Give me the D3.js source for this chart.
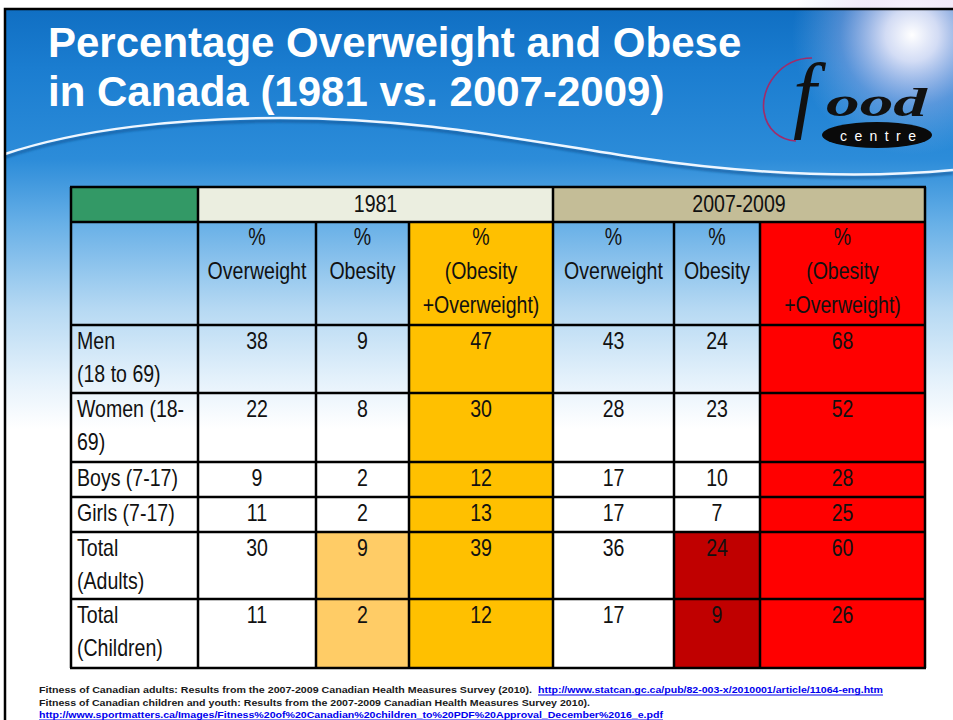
<!DOCTYPE html>
<html>
<head>
<meta charset="utf-8">
<script src="https://cdn.jsdelivr.net/npm/d3@7"></script>
<style>
  body { margin: 0; background: #fff; }
  svg { display: block; font-family: "Liberation Sans", Arial, sans-serif; }
</style>
</head>
<body>
<div id="slide"></div>
<script>
// ---- data ----
var titleLines = ["Percentage Overweight and Obese", "in Canada (1981 vs. 2007-2009)"];
var periods = ["1981", "2007-2009"];
var columnHeads = [["%", "Overweight"], ["%", "Obesity"], ["%", "(Obesity", "+Overweight)"]];
var rowLabels = [["Men", "(18 to 69)"], ["Women (18-", "69)"], ["Boys (7-17)"], ["Girls (7-17)"], ["Total", "(Adults)"], ["Total", "(Children)"]];
var overweight1981 = [38, 22, 9, 11, 30, 11];
var obesity1981 = [9, 8, 2, 2, 9, 2];
var combined1981 = [47, 30, 12, 13, 39, 12];
var overweight2009 = [43, 28, 17, 17, 36, 17];
var obesity2009 = [24, 23, 10, 7, 24, 9];
var combined2009 = [68, 52, 28, 25, 60, 26];
var sources = [
  ["Fitness of Canadian adults: Results from the 2007-2009 Canadian Health Measures Survey (2010).", "http://www.statcan.gc.ca/pub/82-003-x/2010001/article/11064-eng.htm"],
  ["Fitness of Canadian children and youth: Results from the 2007-2009 Canadian Health Measures Survey 2010).", ""],
  ["", "http://www.sportmatters.ca/Images/Fitness%20of%20Canadian%20children_to%20PDF%20Approval_December%2016_e.pdf"]
];

var svgWidth = 953;
var svgHeight = 720;

var svg = d3.select("#slide").append("svg")
  .attr("width", svgWidth)
  .attr("height", svgHeight);

var defs = svg.append("defs");

// sky background
var sky = defs.append("linearGradient").attr("id", "sky")
  .attr("gradientUnits", "userSpaceOnUse")
  .attr("x1", 0).attr("y1", 9).attr("x2", 0).attr("y2", 720);
[[0, "#106fc3"], [60, "#1b7dd0"], [150, "#2c8cd9"], [215, "#68b0e7"], [300, "#b6d9f3"], [370, "#e4f1fb"], [420, "#ffffff"], [711, "#ffffff"]]
  .forEach(function(s) {
    sky.append("stop").attr("offset", s[0] / 711).attr("stop-color", s[1]);
  });

var sun = defs.append("radialGradient").attr("id", "sun");
sun.append("stop").attr("offset", 0).attr("stop-color", "#ffffff").attr("stop-opacity", 1);
sun.append("stop").attr("offset", 0.22).attr("stop-color", "#f4eefc").attr("stop-opacity", 0.85);
sun.append("stop").attr("offset", 0.6).attr("stop-color", "#dcc8f0").attr("stop-opacity", 0.3);
sun.append("stop").attr("offset", 1).attr("stop-color", "#b0c8f0").attr("stop-opacity", 0);

var blur = defs.append("filter").attr("id", "soft");
blur.append("feGaussianBlur").attr("stdDeviation", 1.2);

svg.append("rect")
  .attr("x", 5).attr("y", 9)
  .attr("width", svgWidth).attr("height", svgHeight)
  .attr("fill", "url(#sky)");

svg.append("circle")
  .attr("cx", 912).attr("cy", 35).attr("r", 120)
  .attr("fill", "url(#sun)");

// wave across the header
var wavePath = "M 5 154 C 80 129, 180 118, 280 118 C 420 118, 520 140, 640 158 C 760 176, 870 178, 953 170";
svg.append("path")
  .attr("d", wavePath)
  .attr("transform", "translate(0,3)")
  .attr("fill", "none")
  .attr("stroke", "#0d4f8e")
  .attr("stroke-width", 3)
  .attr("opacity", 0.6)
  .attr("filter", "url(#soft)");
svg.append("path")
  .attr("d", wavePath)
  .attr("fill", "none")
  .attr("stroke", "#eef6ff")
  .attr("stroke-width", 2.5);

// slide frame
svg.append("path")
  .attr("d", "M 5 " + svgHeight + " V 9 H " + svgWidth)
  .attr("fill", "none")
  .attr("stroke", "#000")
  .attr("stroke-width", 2.5);

// title
svg.selectAll("text.title")
  .data(titleLines)
  .enter()
  .append("text")
  .attr("class", "title")
  .attr("x", 48)
  .attr("y", function(d, i) { return 57 + i * 49; })
  .attr("fill", "#fff")
  .attr("font-size", 42)
  .attr("font-weight", "bold")
  .text(function(d) { return d; });

// food centre logo
var logo = svg.append("g");
logo.append("path")
  .attr("d", "M 812 58 C 780 58, 760 88, 764 112 C 767 130, 780 140, 796 141")
  .attr("fill", "none")
  .attr("stroke", "#a02c6a")
  .attr("stroke-width", 1.6);
logo.append("text")
  .attr("x", 793).attr("y", 122)
  .attr("font-family", "Liberation Serif, serif")
  .attr("font-style", "italic")
  .attr("font-size", 84)
  .attr("fill", "#111")
  .text("f");
logo.append("text")
  .attr("x", 826).attr("y", 116)
  .attr("font-family", "Liberation Serif, serif")
  .attr("font-style", "italic")
  .attr("font-weight", "bold")
  .attr("font-size", 40)
  .attr("fill", "#111")
  .attr("textLength", 101)
  .attr("lengthAdjust", "spacingAndGlyphs")
  .text("ood");
logo.append("ellipse")
  .attr("cx", 877).attr("cy", 135).attr("rx", 55).attr("ry", 13)
  .attr("fill", "#0a0a0a");
logo.append("text")
  .attr("x", 840).attr("y", 141)
  .attr("font-size", 14)
  .attr("fill", "#fff")
  .attr("textLength", 76)
  .attr("lengthAdjust", "spacing")
  .text("centre");

// ---- table ----
var colWidths = [127, 118, 93, 144, 121, 86, 165];
var rowHeights = [35, 103, 68, 69, 35, 35, 67, 69];
var tableLeft = 71;
var tableTop = 187;

var colEdges = [tableLeft].concat(Array.from(d3.cumsum(colWidths), function(v) { return v + tableLeft; }));
var rowEdges = [tableTop].concat(Array.from(d3.cumsum(rowHeights), function(v) { return v + tableTop; }));

var x = d3.scaleOrdinal().domain(d3.range(colWidths.length)).range(colEdges.slice(0, -1));
var w = d3.scaleOrdinal().domain(d3.range(colWidths.length)).range(colWidths);
var y = d3.scaleOrdinal().domain(d3.range(rowHeights.length)).range(rowEdges.slice(0, -1));
var h = d3.scaleOrdinal().domain(d3.range(rowHeights.length)).range(rowHeights);

var valueColumns = [overweight1981, obesity1981, combined1981, overweight2009, obesity2009, combined2009];

var ORANGE = "#ffc000", LIGHT_ORANGE = "#ffcc66", RED = "#ff0000", DARK_RED = "#c00000";

function cellFill(col, row) {
  if (col === 3) return ORANGE;
  if (col === 6) return RED;
  if (row >= 6 && col === 2) return LIGHT_ORANGE;
  if (row >= 6 && col === 5) return DARK_RED;
  return "none";
}

var table = svg.append("g");

// header row 1
var headCells = [
  { x0: 0, x1: 1, fill: "#339966", text: "" },
  { x0: 1, x1: 4, fill: "#ebeee0", text: periods[0] },
  { x0: 4, x1: 7, fill: "#c4bd97", text: periods[1] }
];
table.selectAll("rect.head")
  .data(headCells)
  .enter()
  .append("rect")
  .attr("class", "head")
  .attr("x", function(d) { return colEdges[d.x0]; })
  .attr("y", y(0))
  .attr("width", function(d) { return colEdges[d.x1] - colEdges[d.x0]; })
  .attr("height", h(0))
  .attr("fill", function(d) { return d.fill; });

function condensed(sel, cx, cy) {
  return sel.attr("transform", "translate(" + cx + "," + cy + ") scale(0.85,1)");
}

headCells.forEach(function(d) {
  if (!d.text) return;
  condensed(table.append("text"), (colEdges[d.x0] + colEdges[d.x1]) / 2, y(0) + 25)
    .attr("text-anchor", "middle")
    .attr("font-size", 23)
    .attr("fill", "#111")
    .text(d.text);
});

// all body cells (header row 2 + data rows)
var cells = [];
for (var r = 1; r < rowHeights.length; r++) {
  for (var c = 0; c < colWidths.length; c++) {
    var lines;
    if (r === 1) lines = c === 0 ? [] : columnHeads[(c - 1) % 3];
    else if (c === 0) lines = rowLabels[r - 2];
    else lines = [String(valueColumns[c - 1][r - 2])];
    cells.push({ row: r, col: c, lines: lines });
  }
}

table.selectAll("rect.cell")
  .data(cells)
  .enter()
  .append("rect")
  .attr("class", "cell")
  .attr("x", function(d) { return x(d.col); })
  .attr("y", function(d) { return y(d.row); })
  .attr("width", function(d) { return w(d.col); })
  .attr("height", function(d) { return h(d.row); })
  .attr("fill", function(d) { return cellFill(d.col, d.row); });

cells.forEach(function(d) {
  var lead = d.row === 1 ? 23 : 24;
  var step = d.row === 1 ? 34 : 33;
  d.lines.forEach(function(line, i) {
    var cx = d.col === 0 ? x(0) + 6 : x(d.col) + w(d.col) / 2;
    condensed(table.append("text"), cx, y(d.row) + lead + i * step)
      .attr("text-anchor", d.col === 0 ? "start" : "middle")
      .attr("font-size", 23)
      .attr("fill", "#111")
      .text(line);
  });
});

// grid lines
table.selectAll("line.h")
  .data(rowEdges)
  .enter()
  .append("line")
  .attr("x1", tableLeft - 1)
  .attr("x2", colEdges[colEdges.length - 1] + 1)
  .attr("y1", function(d) { return d; })
  .attr("y2", function(d) { return d; })
  .attr("stroke", "#000")
  .attr("stroke-width", 2.5);

table.selectAll("line.v")
  .data(colEdges.map(function(e, i) { return { e: e, i: i }; }))
  .enter()
  .append("line")
  .attr("x1", function(d) { return d.e; })
  .attr("x2", function(d) { return d.e; })
  .attr("y1", function(d) { return (d.i === 2 || d.i === 3 || d.i === 5 || d.i === 6) ? rowEdges[1] : rowEdges[0]; })
  .attr("y2", rowEdges[rowEdges.length - 1])
  .attr("stroke", "#000")
  .attr("stroke-width", 2.5);

// ---- sources ----
var sourceLayout = [
  { y: 693, plainEnd: 532, linkStart: 538, linkEnd: 883 },
  { y: 706, plainEnd: 590 },
  { y: 718, linkStart: 39, linkEnd: 663 }
];
sources.forEach(function(s, i) {
  var L = sourceLayout[i];
  if (s[0]) {
    svg.append("text")
      .attr("x", 39).attr("y", L.y)
      .attr("font-size", 9)
      .attr("font-weight", "bold")
      .attr("fill", "#1a1a1a")
      .attr("textLength", L.plainEnd - 39)
      .attr("lengthAdjust", "spacingAndGlyphs")
      .text(s[0]);
  }
  if (s[1]) {
    svg.append("text")
      .attr("x", L.linkStart).attr("y", L.y)
      .attr("font-size", 9)
      .attr("font-weight", "bold")
      .attr("fill", "#0000ee")
      .attr("textLength", L.linkEnd - L.linkStart)
      .attr("lengthAdjust", "spacingAndGlyphs")
      .text(s[1]);
    svg.append("line")
      .attr("x1", L.linkStart).attr("x2", L.linkEnd)
      .attr("y1", L.y + 2).attr("y2", L.y + 2)
      .attr("stroke", "#0000ee")
      .attr("stroke-width", 1);
  }
});
</script>
</body>
</html>
